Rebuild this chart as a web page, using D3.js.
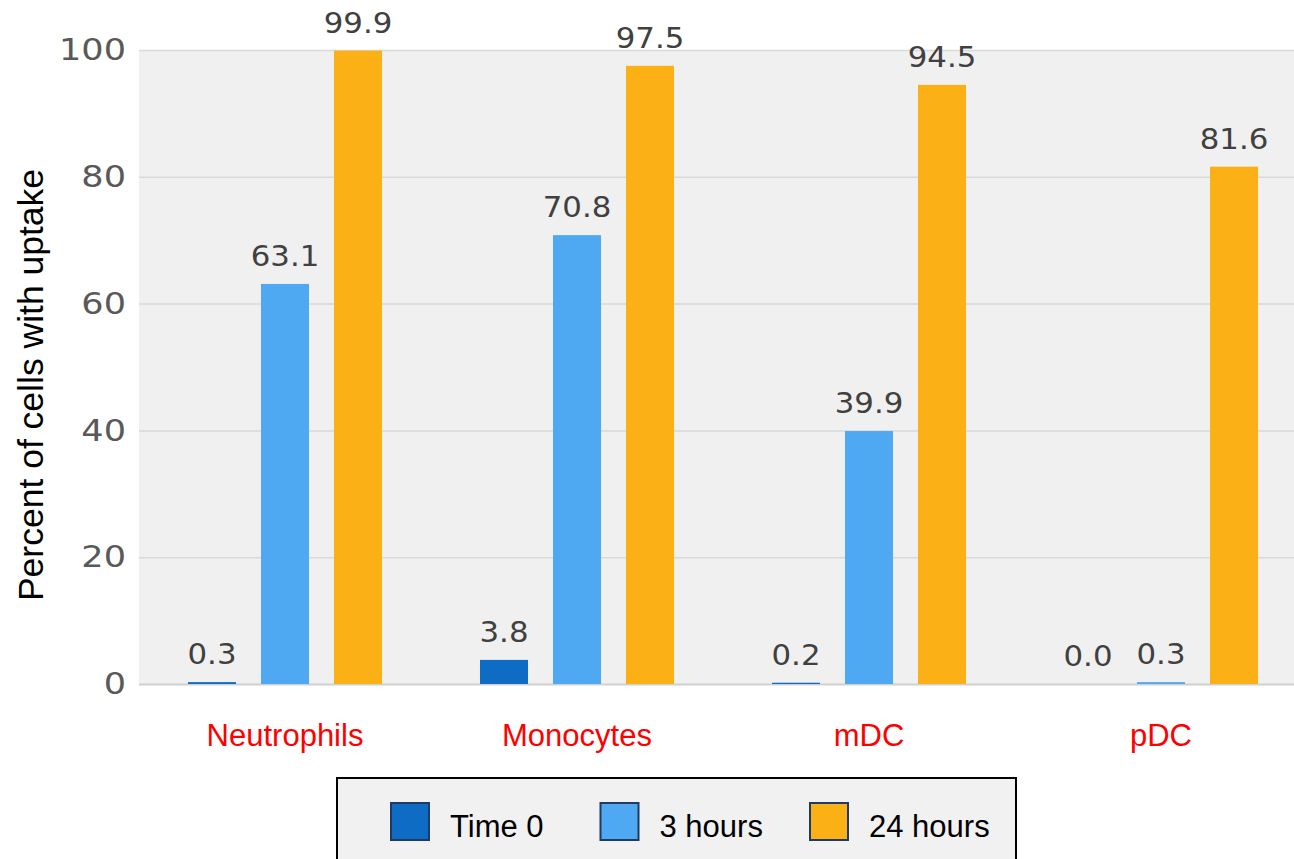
<!DOCTYPE html>
<html>
<head>
<meta charset="utf-8">
<script src="https://cdn.jsdelivr.net/npm/d3@7"></script>
<style>
  html, body { margin: 0; padding: 0; background: #ffffff; }
  svg { display: block; }
</style>
</head>
<body>
<svg id="chart" width="1294" height="859"></svg>
<script>
// Cell types on the x axis
const categories = ["Neutrophils", "Monocytes", "mDC", "pDC"];
// Time points (series)
const series = ["Time 0", "3 hours", "24 hours"];
// Percent of cells with uptake, one array per time point
const time0 = [0.3, 3.8, 0.2, 0.0];
const hours3 = [63.1, 70.8, 39.9, 0.3];
const hours24 = [99.9, 97.5, 94.5, 81.6];
// Y axis ticks
const yTicks = [0, 20, 40, 60, 80, 100];

const seriesValues = [time0, hours3, hours24];
const colors = ["#0f6cc5", "#4fa9f2", "#fbb116"];

const svg = d3.select("#chart");
const W = 1294, H = 859;
const plot = { left: 139, right: 1307, top: 50, bottom: 684 };

const x0 = d3.scaleBand().domain(categories).range([plot.left, plot.right]).padding(0);
const x1 = d3.scaleBand().domain(series).range([0, x0.bandwidth()])
  .paddingInner(0.342).paddingOuter(0.671);
const y = d3.scaleLinear().domain([0, 100]).range([plot.bottom, plot.top]);

// Plot background
svg.append("rect")
  .attr("x", plot.left).attr("y", plot.top)
  .attr("width", W - plot.left).attr("height", plot.bottom - plot.top)
  .attr("fill", "#f0f0f0");

// Horizontal gridlines and tick labels
const yAxis = d3.axisLeft(y).tickValues(yTicks).tickSize(-(W - plot.left)).tickPadding(12);
const gy = svg.append("g").attr("transform", `translate(${plot.left},0)`).call(yAxis);
gy.select(".domain").remove();
gy.selectAll(".tick line")
  .attr("stroke", d => d === 0 ? "#d0d0d0" : "#d9d9d9")
  .attr("stroke-width", d => d === 0 ? 2 : 1.5);
gy.selectAll(".tick text")
  .attr("font-family", "DejaVu Sans, sans-serif")
  .attr("font-size", 30)
  .attr("fill", "#595959")
  .attr("x", 0)
  .attr("transform", "translate(-13,0) scale(1.17,1)");

// Bars
const rows = categories.map((c, i) => ({
  cat: c,
  vals: series.map((s, j) => ({ s, j, v: seriesValues[j][i] }))
}));

const groups = svg.append("g").selectAll("g").data(rows).join("g")
  .attr("transform", d => `translate(${x0(d.cat)},0)`);

groups.selectAll("rect").data(d => d.vals).join("rect")
  .attr("x", d => x1(d.s))
  .attr("y", d => y(d.v))
  .attr("width", x1.bandwidth())
  .attr("height", d => y(0) - y(d.v))
  .attr("fill", d => colors[d.j]);

// Value labels above bars
groups.selectAll("text").data(d => d.vals).join("text")
  .attr("transform", d => `translate(${x1(d.s) + x1.bandwidth() / 2},${y(d.v) - 18}) scale(1.1,1)`)
  .attr("text-anchor", "middle")
  .attr("font-family", "DejaVu Sans, sans-serif")
  .attr("font-size", 28)
  .attr("fill", "#404040")
  .text(d => d.v.toFixed(1));

// Category labels
svg.append("g").selectAll("text").data(categories).join("text")
  .attr("x", d => x0(d) + x0.bandwidth() / 2)
  .attr("y", 746)
  .attr("text-anchor", "middle")
  .attr("font-family", "Liberation Sans, Arial, sans-serif")
  .attr("font-size", 31)
  .attr("fill", "#ff0000")
  .text(d => d);

// Y axis title
svg.append("text")
  .attr("transform", `translate(43,385) rotate(-90)`)
  .attr("text-anchor", "middle")
  .attr("font-family", "Liberation Sans, Arial, sans-serif")
  .attr("font-size", 35.5)
  .attr("fill", "#000000")
  .text("Percent of cells with uptake");

// Legend
const legend = svg.append("g");
legend.append("rect")
  .attr("x", 337).attr("y", 778)
  .attr("width", 679).attr("height", 100)
  .attr("fill", "#f1f1f1")
  .attr("stroke", "#000000")
  .attr("stroke-width", 2);

const legendX = d3.scalePoint().domain(series).range([391, 810]);
const items = legend.selectAll("g.item").data(series).join("g")
  .attr("class", "item")
  .attr("transform", d => `translate(${legendX(d)},803)`);
items.append("rect")
  .attr("width", 38).attr("height", 37)
  .attr("fill", (d, i) => colors[i])
  .attr("stroke", "#1d3b63")
  .attr("stroke-width", 2);
items.append("text")
  .attr("x", 59)
  .attr("y", 34)
  .attr("font-family", "Liberation Sans, Arial, sans-serif")
  .attr("font-size", 31)
  .attr("fill", "#000000")
  .text(d => d);
</script>
</body>
</html>
